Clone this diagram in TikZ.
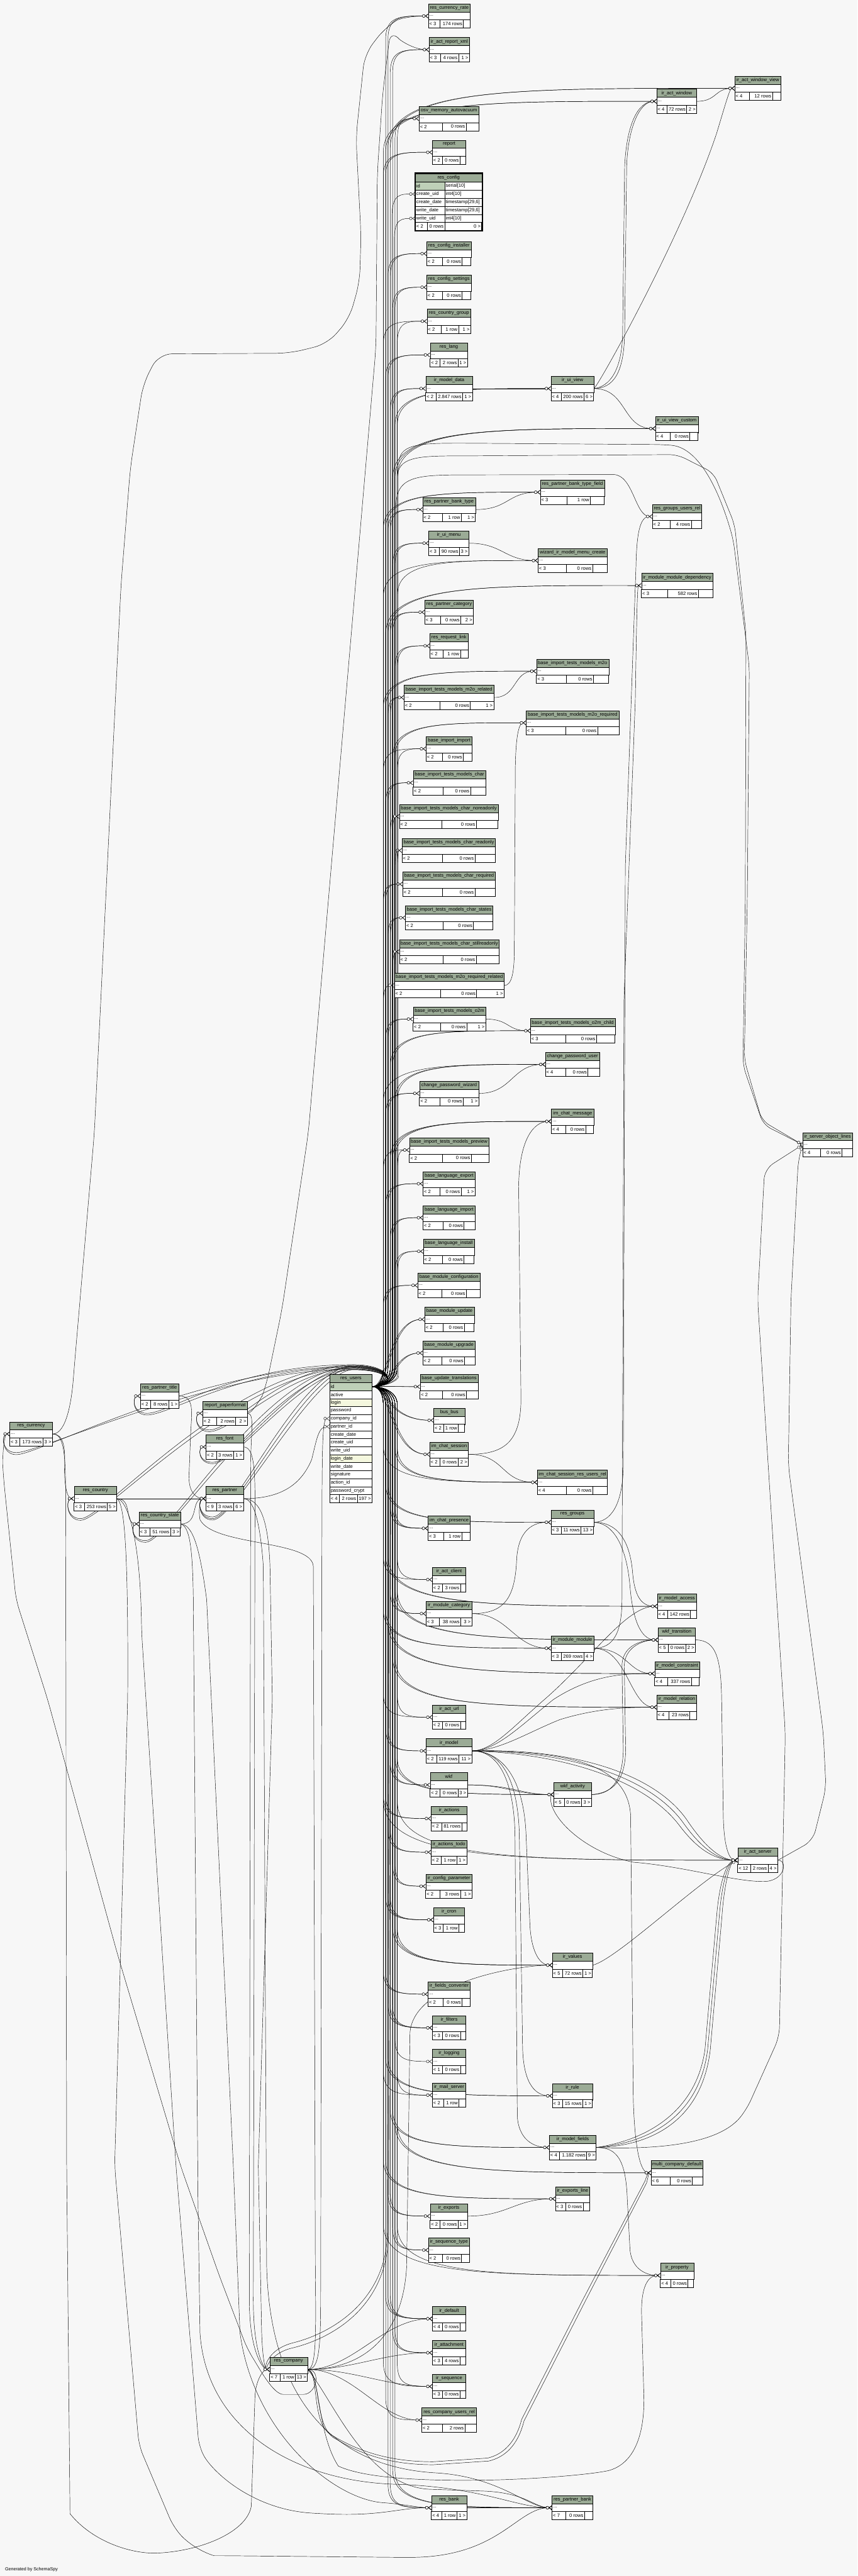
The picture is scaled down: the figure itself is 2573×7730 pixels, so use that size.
\documentclass[tikz,border=0pt]{standalone}
\usepackage{fontspec}
\newfontfamily\sfx{Liberation Sans}
\usetikzlibrary{arrows.meta,calc}
\pgfdeclarelayer{back}\pgfdeclarelayer{edges}
\pgfsetlayers{back,edges,main}
\definecolor{hdrc}{HTML}{9BAB96}
\definecolor{idc}{HTML}{BED0B8}
\definecolor{ylc}{HTML}{F4F7DE}
\definecolor{bgc}{HTML}{F7F7F7}
\tikzset{
 txt/.style={font=\sfx\fontsize{14.4}{16}\selectfont, inner sep=0pt},
 hdr/.style={draw=black, line width=0.9pt, fill=hdrc, anchor=north west, minimum height=24.4pt, inner sep=0pt, font=\sfx\fontsize{14.4}{16}\selectfont},
 drow/.style={draw=black, line width=0.9pt, fill=white, anchor=north west, minimum height=24.4pt, inner sep=0pt},
 frw/.style={draw=black, line width=0.9pt, anchor=north west, minimum height=24.2pt, inner sep=0pt},
 cell/.style={draw=black, line width=0.9pt},
 fk/.style={draw=black, line width=0.85pt, -{Circle[length=9pt,fill=white] Straight Barb[reversed,length=8pt,width=12pt]}}
}
\newcommand\tfoot[8]{%
 \draw[cell,fill=white] (#1,#2) rectangle ++(#3,24.4);
 \draw[cell] ({#1+#4*#3},#2) -- ++(0,24.4);
 \draw[cell] ({#1+#5*#3},#2) -- ++(0,24.4);
 \node[txt, anchor=west] at (#1+3,#2+12.2) {#6};
 \node[txt, anchor=east] at ({#1+#5*#3-3},#2+12.2) {#7};
 \node[txt, anchor=east] at ({#1+#3-3},#2+12.2) {#8};}
\newcommand\ctab[9]{%
 \node[hdr, minimum width=#4pt] (#1-h) at (#2,#3) {\detokenize{#1}};
 \node[drow, minimum width=#4pt] (#1) at (#2,#3+24.4) {};
 \node[txt, anchor=west] at (#2+3,#3+36.6) {...};
 \pgfmathsetmacro\tmpy{#3+36.6}%
 \expandafter\xdef\csname ty@#1\endcsname{\tmpy}%
 \expandafter\xdef\csname tx@#1\endcsname{#2}%
 \tfoot{#2}{#3+48.8}{#4}{#5}{#6}{#7}{#8}{#9}}
\newcommand\frow[6]{%
 \node[frw, minimum width=#5pt, fill=#6] (#1) at (#3,#4) {};
 \node[txt, anchor=west] at ([xshift=3pt]#1.west) {\detokenize{#2}};}
\newcount\ecnt
\newcommand\uone[1]{\global\advance\ecnt by 1 %
 \pgfmathsetmacro\cxa{1150+7*mod(\the\ecnt,7)}%
 \pgfmathsetmacro\txv{\csname tx@#1\endcsname}%
 \pgfmathsetmacro\tyv{\csname ty@#1\endcsname}%
 \pgfmathsetmacro\dyv{\tyv-4160.4}%
 \pgfmathsetmacro\kv{55+0.12*(\txv-\cxa)}%
 \pgfmathsetmacro\cxb{\cxa+0.35*(\txv-\cxa)}%
 \ifdim \dyv pt < -220pt
  \draw[fk] (res_users-id.east) to[out=0,in=-90] (\cxa,4105) -- (\cxa,\tyv+\kv) .. controls (\cxa,\tyv) and (\cxb,\tyv) .. (#1.west);
 \else\ifdim \dyv pt > 220pt
  \draw[fk] (res_users-id.east) to[out=0,in=90] (\cxa,4215) -- (\cxa,\tyv-\kv) .. controls (\cxa,\tyv) and (\cxb,\tyv) .. (#1.west);
 \else
  \draw[fk] (res_users-id.east) .. controls (\cxa,4160.4) and (\cxa,\tyv) .. (#1.west);
 \fi\fi}
\newcommand\utwo[1]{\uone{#1}\uone{#1}}
\newcommand\uthree[1]{\uone{#1}\uone{#1}\uone{#1}}
\newcommand\pcedge[4]{\draw[fk] (#1.east) .. controls +(#3,0) and +(-#4,0) .. (#2.west);}
\newcommand\hookedge[4]{\draw[fk] (res_users-id.east) .. controls (1192,4160) and (1180,#2) .. (1060,#2) .. controls (#3,#2) and ($(#1.west)+(90,#4)$) .. ($(#1.west)+(20,#4)$) .. controls ($(#1.west)+(-25,#4)$) and ($(#1.west)+(-25,0)$) .. (#1.west);}
\newcommand\cedge[2]{\draw[fk] (res_company.east) .. controls (1060,7110) and (#2,0 |- #1.west) .. (#1.west);}
\begin{document}
\begin{tikzpicture}[x=1pt,y=-1pt]
\useasboundingbox (0,0) rectangle (2573,7730);
\begin{pgfonlayer}{back}
\fill[bgc] (0,0) rectangle (2573,7730);
\end{pgfonlayer}
% ---------------- tables ----------------
\ctab{res_currency_rate}{1285}{11}{125}{0.28}{0.84}{< 3}{174 rows}{}
\ctab{ir_act_report_xml}{1287}{112}{121}{0.28}{0.73}{< 3}{4 rows}{1 >}
\ctab{ir_act_window_view}{2204}{228}{138}{0.32}{0.82}{< 4}{12 rows}{}
\ctab{ir_act_window}{1970}{267}{120}{0.26}{0.75}{< 4}{72 rows}{2 >}
\ctab{osv_memory_autovacuum}{1257}{319}{179}{0.39}{0.79}{< 2}{0 rows}{}
\ctab{report}{1297}{420}{100}{0.31}{0.83}{< 2}{0 rows}{}
\ctab{res_config_installer}{1280}{724}{133}{0.36}{0.80}{< 2}{0 rows}{}
\ctab{res_config_settings}{1280}{825}{133}{0.36}{0.80}{< 2}{0 rows}{}
\ctab{res_country_group}{1281}{927}{131}{0.33}{0.72}{< 2}{1 row}{1 >}
\ctab{res_lang}{1290}{1028}{112}{0.27}{0.75}{< 2}{2 rows}{1 >}
\ctab{ir_model_data}{1277}{1129}{140}{0.22}{0.79}{< 2}{2.847 rows}{1 >}
\ctab{ir_ui_view}{1653}{1129}{128}{0.24}{0.77}{< 4}{200 rows}{6 >}
\ctab{ir_ui_view_custom}{1966}{1249}{128}{0.34}{0.81}{< 4}{0 rows}{}
\ctab{res_partner_bank_type_field}{1621}{1440}{192}{0.42}{0.78}{< 3}{1 row}{}
\ctab{res_partner_bank_type}{1268}{1492}{158}{0.37}{0.73}{< 2}{1 row}{1 >}
\ctab{res_groups_users_rel}{1957}{1513}{148}{0.36}{0.79}{< 2}{4 rows}{}
\ctab{ir_ui_menu}{1286}{1593}{120}{0.26}{0.77}{< 3}{90 rows}{3 >}
\ctab{wizard_ir_model_menu_create}{1614}{1645}{207}{0.41}{0.79}{< 3}{0 rows}{}
\ctab{ir_module_module_dependency}{1924}{1720}{214}{0.37}{0.80}{< 3}{582 rows}{}
\ctab{res_partner_category}{1274}{1800}{146}{0.32}{0.74}{< 3}{0 rows}{2 >}
\ctab{res_request_link}{1289}{1901}{115}{0.35}{0.80}{< 2}{1 row}{}
\ctab{base_import_tests_models_m2o}{1609}{1977}{217}{0.41}{0.79}{< 3}{0 rows}{}
\ctab{base_import_tests_models_m2o_related}{1212}{2056}{269}{0.40}{0.74}{< 2}{0 rows}{1 >}
\ctab{base_import_tests_models_m2o_required}{1578}{2132}{279}{0.43}{0.77}{< 3}{0 rows}{}
\ctab{base_import_import}{1278}{2210}{138}{0.36}{0.81}{< 2}{0 rows}{}
\ctab{base_import_tests_models_char}{1239}{2312}{218}{0.41}{0.79}{< 2}{0 rows}{}
\ctab{base_import_tests_models_char_noreadonly}{1198}{2413}{296}{0.43}{0.78}{< 2}{0 rows}{}
\ctab{base_import_tests_models_char_readonly}{1206}{2515}{280}{0.43}{0.78}{< 2}{0 rows}{}
\ctab{base_import_tests_models_char_required}{1208}{2616}{278}{0.43}{0.78}{< 2}{0 rows}{}
\ctab{base_import_tests_models_char_states}{1216}{2717}{262}{0.43}{0.78}{< 2}{0 rows}{}
\ctab{base_import_tests_models_char_stillreadonly}{1198}{2819}{299}{0.44}{0.77}{< 2}{0 rows}{}
\ctab{base_import_tests_models_m2o_required_related}{1183}{2920}{329}{0.42}{0.75}{< 2}{0 rows}{1 >}
\ctab{base_import_tests_models_o2m}{1239}{3021}{218}{0.38}{0.74}{< 2}{0 rows}{1 >}
\ctab{base_import_tests_models_o2m_child}{1591}{3056}{254}{0.42}{0.78}{< 3}{0 rows}{}
\ctab{change_password_user}{1636}{3157}{162}{0.38}{0.79}{< 4}{0 rows}{}
\ctab{change_password_wizard}{1258}{3244}{178}{0.35}{0.74}{< 2}{0 rows}{1 >}
\ctab{im_chat_message}{1654}{3328}{127}{0.34}{0.81}{< 4}{0 rows}{}
\ctab{base_import_tests_models_preview}{1228}{3414}{238}{0.42}{0.78}{< 2}{0 rows}{}
\ctab{base_language_export}{1269}{3515}{156}{0.33}{0.73}{< 2}{0 rows}{1 >}
\ctab{base_language_import}{1269}{3617}{156}{0.38}{0.79}{< 2}{0 rows}{}
\ctab{base_language_install}{1270}{3718}{152}{0.37}{0.80}{< 2}{0 rows}{}
\ctab{base_module_configuration}{1253}{3820}{187}{0.39}{0.78}{< 2}{0 rows}{}
\ctab{ir_server_object_lines}{2408}{3398}{149}{0.36}{0.79}{< 4}{0 rows}{}
\ctab{base_module_update}{1274}{3922}{148}{0.37}{0.80}{< 2}{0 rows}{}
\ctab{base_module_upgrade}{1268}{4023}{157}{0.37}{0.80}{< 2}{0 rows}{}
\ctab{base_update_translations}{1260}{4124}{174}{0.39}{0.80}{< 2}{0 rows}{}
\ctab{bus_bus}{1301}{4225}{93}{0.32}{0.79}{< 2}{1 row}{}
\ctab{im_chat_session}{1289}{4327}{116}{0.27}{0.73}{< 2}{0 rows}{2 >}
\ctab{im_chat_session_res_users_rel}{1612}{4411}{210}{0.41}{0.79}{< 4}{0 rows}{}
\ctab{res_groups}{1653}{4531}{128}{0.24}{0.70}{< 3}{11 rows}{13 >}
\ctab{im_chat_presence}{1284}{4549}{126}{0.37}{0.80}{< 3}{1 row}{}
\ctab{ir_act_client}{1297}{4703}{100}{0.31}{0.84}{< 2}{3 rows}{}
\ctab{ir_model_access}{1972}{4783}{117}{0.27}{0.85}{< 4}{142 rows}{}
\ctab{ir_module_category}{1278}{4805}{137}{0.29}{0.76}{< 3}{38 rows}{3 >}
\ctab{wkf_transition}{1974}{4884}{112}{0.27}{0.74}{< 5}{0 rows}{2 >}
\ctab{ir_module_module}{1653}{4909}{128}{0.24}{0.77}{< 3}{269 rows}{4 >}
\ctab{ir_model_constraint}{1964}{4985}{134}{0.29}{0.82}{< 4}{337 rows}{}
\ctab{ir_model_relation}{1970}{5086}{120}{0.30}{0.83}{< 4}{23 rows}{}
\ctab{ir_act_url}{1297}{5116}{100}{0.31}{0.84}{< 2}{0 rows}{}
\ctab{ir_model}{1278}{5217}{137}{0.23}{0.72}{< 2}{119 rows}{11 >}
\ctab{wkf}{1290}{5319}{112}{0.27}{0.75}{< 2}{0 rows}{3 >}
\ctab{wkf_activity}{1661}{5348}{113}{0.28}{0.74}{< 5}{0 rows}{3 >}
\ctab{ir_actions}{1293}{5420}{108}{0.29}{0.85}{< 2}{81 rows}{}
\ctab{ir_actions_todo}{1293}{5521}{107}{0.29}{0.72}{< 2}{1 row}{1 >}
\ctab{ir_act_server}{2213}{5545}{120}{0.32}{0.76}{< 12}{2 rows}{4 >}
\ctab{ir_config_parameter}{1277}{5623}{139}{0.31}{0.75}{< 2}{3 rows}{1 >}
\ctab{ir_cron}{1300}{5724}{93}{0.32}{0.82}{< 3}{1 row}{}
\ctab{ir_values}{1657}{5860}{120}{0.26}{0.76}{< 5}{72 rows}{1 >}
\ctab{ir_fields_converter}{1284}{5947}{126}{0.35}{0.81}{< 2}{0 rows}{}
\ctab{ir_filters}{1297}{6048}{100}{0.31}{0.84}{< 3}{0 rows}{}
\ctab{ir_logging}{1297}{6149}{100}{0.31}{0.84}{< 1}{0 rows}{}
\ctab{ir_mail_server}{1297}{6250}{100}{0.33}{0.80}{< 2}{1 row}{}
\ctab{ir_rule}{1657}{6252}{120}{0.26}{0.76}{< 3}{15 rows}{1 >}
\ctab{ir_model_fields}{1648}{6407}{140}{0.21}{0.80}{< 4}{1.182 rows}{9 >}
\ctab{multi_company_default}{1953}{6483}{155}{0.37}{0.80}{< 6}{0 rows}{}
\ctab{ir_exports_line}{1666}{6561}{103}{0.31}{0.81}{< 3}{0 rows}{}
\ctab{ir_exports}{1290}{6613}{112}{0.27}{0.75}{< 2}{0 rows}{1 >}
\ctab{ir_sequence_type}{1285}{6715}{123}{0.34}{0.81}{< 2}{0 rows}{}
\ctab{ir_property}{1981}{6791}{100}{0.31}{0.83}{< 4}{0 rows}{}
\ctab{ir_default}{1297}{6921}{100}{0.31}{0.83}{< 4}{0 rows}{}
\ctab{ir_attachment}{1297}{7023}{100}{0.31}{0.83}{< 3}{4 rows}{}
\ctab{ir_sequence}{1297}{7124}{100}{0.31}{0.83}{< 3}{0 rows}{}
\ctab{res_company_users_rel}{1265}{7225}{164}{0.38}{0.79}{< 2}{2 rows}{}
\ctab{res_bank}{1294}{7488}{106}{0.30}{0.72}{< 4}{1 row}{1 >}
\ctab{res_partner_bank}{1656}{7488}{122}{0.34}{0.80}{< 7}{0 rows}{}
\ctab{res_currency}{29}{4266}{128}{0.24}{0.78}{< 3}{173 rows}{3 >}
\ctab{res_partner_title}{421}{4152}{115}{0.27}{0.74}{< 2}{8 rows}{1 >}
\ctab{report_paperformat}{608}{4204}{134}{0.31}{0.74}{< 2}{2 rows}{2 >}
\ctab{res_font}{618}{4305}{112}{0.28}{0.74}{< 2}{3 rows}{1 >}
\ctab{res_country}{222}{4460}{128}{0.24}{0.78}{< 3}{253 rows}{5 >}
\ctab{res_partner}{618}{4460}{112}{0.28}{0.74}{< 9}{3 rows}{6 >}
\ctab{res_country_state}{417}{4536}{124}{0.27}{0.76}{< 3}{51 rows}{3 >}
\ctab{res_company}{809}{7073}{113}{0.28}{0.68}{< 7}{1 row}{13 >}
% res_config (full)
\node[hdr, minimum width=199pt] (res_config-h) at (1246,521) {res\_config};
\frow{rc-id}{id}{1246}{545.4}{88}{idc}
\frow{rc-id2}{serial[10]}{1334}{545.4}{111}{white}
\frow{rc-create_uid}{create_uid}{1246}{569.8}{88}{white}
\frow{rc-create_uid2}{int4[10]}{1334}{569.8}{111}{white}
\frow{rc-create_date}{create_date}{1246}{594.2}{88}{white}
\frow{rc-create_date2}{timestamp[29,6]}{1334}{594.2}{111}{white}
\frow{rc-write_date}{write_date}{1246}{618.6}{88}{white}
\frow{rc-write_date2}{timestamp[29,6]}{1334}{618.6}{111}{white}
\frow{rc-write_uid}{write_uid}{1246}{643.0}{88}{white}
\frow{rc-write_uid2}{int4[10]}{1334}{643.0}{111}{white}
\tfoot{1246}{667.4}{199}{0.176}{0.442}{< 2}{0 rows}{0 >}
\draw[line width=3pt] (1244.5,519.5) rectangle (1447.5,693.3);
% res_users (full)
\node[hdr, minimum width=127pt] (res_users-h) at (989,4124) {res\_users};
\frow{res_users-id}{id}{989}{4148.4}{127}{idc}
\frow{res_users-active}{active}{989}{4172.4}{127}{white}
\frow{res_users-login}{login}{989}{4196.4}{127}{ylc}
\frow{res_users-password}{password}{989}{4220.4}{127}{white}
\frow{res_users-company_id}{company_id}{989}{4244.4}{127}{white}
\frow{res_users-partner_id}{partner_id}{989}{4268.4}{127}{white}
\frow{res_users-create_date}{create_date}{989}{4292.4}{127}{white}
\frow{res_users-create_uid}{create_uid}{989}{4316.4}{127}{white}
\frow{res_users-write_uid}{write_uid}{989}{4340.4}{127}{white}
\frow{res_users-login_date}{login_date}{989}{4364.4}{127}{ylc}
\frow{res_users-write_date}{write_date}{989}{4388.4}{127}{white}
\frow{res_users-signature}{signature}{989}{4412.4}{127}{white}
\frow{res_users-action_id}{action_id}{989}{4436.4}{127}{white}
\frow{res_users-password_crypt}{password_crypt}{989}{4460.4}{127}{white}
\tfoot{989}{4484.4}{127}{0.23}{0.65}{< 4}{2 rows}{197 >}
\node[txt, anchor=west, font=\sfx\fontsize{13.5}{15}\selectfont] (credit) at (15,7711) {Generated by SchemaSpy};
% ---------------- edges ----------------
\begin{pgfonlayer}{edges}
\utwo{res_currency_rate}\utwo{ir_act_report_xml}\utwo{osv_memory_autovacuum}\utwo{report}
\draw[fk] (res_users-id.east) to[out=0,in=-90] (1176,4105) -- (1176,650) .. controls (1176,582) and (1200,582) .. (rc-create_uid.west);
\draw[fk] (res_users-id.east) to[out=0,in=-90] (1183,4105) -- (1183,720) .. controls (1183,655) and (1205,655) .. (rc-write_uid.west);
\utwo{res_config_installer}\utwo{res_config_settings}\utwo{res_country_group}\utwo{res_lang}
\utwo{ir_model_data}\utwo{ir_ui_view}\utwo{ir_act_window}\utwo{ir_act_window_view}\uthree{ir_ui_view_custom}
\utwo{res_partner_bank_type_field}\utwo{res_partner_bank_type}\utwo{ir_ui_menu}\utwo{wizard_ir_model_menu_create}
\utwo{ir_module_module_dependency}\utwo{res_partner_category}\utwo{res_request_link}
\utwo{base_import_tests_models_m2o}\utwo{base_import_tests_models_m2o_related}\utwo{base_import_tests_models_m2o_required}
\utwo{base_import_import}\utwo{base_import_tests_models_char}\utwo{base_import_tests_models_char_noreadonly}
\utwo{base_import_tests_models_char_readonly}\utwo{base_import_tests_models_char_required}\utwo{base_import_tests_models_char_states}
\utwo{base_import_tests_models_char_stillreadonly}\utwo{base_import_tests_models_m2o_required_related}
\utwo{base_import_tests_models_o2m}\utwo{base_import_tests_models_o2m_child}\uthree{change_password_user}
\utwo{change_password_wizard}\uthree{im_chat_message}\utwo{base_import_tests_models_preview}
\utwo{base_language_export}\utwo{base_language_import}\utwo{base_language_install}\utwo{base_module_configuration}
\utwo{base_module_update}\utwo{base_module_upgrade}\utwo{base_update_translations}
\utwo{bus_bus}\utwo{im_chat_session}\uthree{im_chat_session_res_users_rel}\utwo{res_groups}\uthree{im_chat_presence}
\utwo{ir_act_client}\utwo{ir_model_access}\utwo{ir_module_category}\utwo{wkf_transition}\utwo{ir_module_module}
\utwo{ir_model_constraint}\utwo{ir_model_relation}\utwo{ir_act_url}\utwo{ir_model}\utwo{wkf}\utwo{wkf_activity}
\utwo{ir_actions}\utwo{ir_actions_todo}\utwo{ir_config_parameter}\utwo{ir_act_server}\uthree{ir_cron}\uthree{ir_values}
\utwo{ir_fields_converter}\uthree{ir_filters}\uone{ir_logging}\utwo{ir_mail_server}\utwo{ir_rule}\utwo{ir_model_fields}
\utwo{multi_company_default}\utwo{ir_exports_line}\utwo{ir_exports}\utwo{ir_sequence_type}\utwo{ir_property}
\uthree{ir_default}\utwo{ir_attachment}\utwo{ir_sequence}\uone{res_company_users_rel}\utwo{res_bank}\utwo{res_partner_bank}
% res_users -> tables via the top
\draw[fk] (res_users-id.east) to[out=0,in=-90] (1188,4105) -- (1188,1520) .. controls (1188,1428) and (1250,1425) .. (1400,1425) -- (1840,1424) .. controls (1900,1424) and (1905,1549) .. (res_groups_users_rel.west);
\draw[fk, rounded corners=25pt] (res_users-id.east) to[out=0,in=-90] (1192,4105) -- (1192,1460) .. controls (1192,1372) and (1250,1368) .. (1400,1368) -- (2032,1364) -- (2141,1419) -- (2204,1574) -- (2238,1900) -- (2236,2700) -- (2229,3197) -- (2290,3375) -- (ir_server_object_lines.west);
\draw[fk, rounded corners=25pt] (res_users-id.east) to[out=0,in=-90] (1196,4105) -- (1196,1420) .. controls (1196,1334) and (1250,1330) .. (1400,1330) -- (1990,1334) .. controls (2100,1344) and (2160,1480) .. (2200,1620) -- (2248,2000) -- (2242,2700) -- (2233,3180) -- (2286,3363) -- (ir_server_object_lines.west);
% res_users -> left tables
\hookedge{res_currency}{4100}{600}{62}
\hookedge{res_currency}{4108}{650}{56}
\hookedge{res_partner_title}{4095}{700}{52}
\hookedge{res_partner_title}{4103}{720}{57}
\hookedge{report_paperformat}{4098}{850}{50}
\hookedge{report_paperformat}{4106}{870}{55}
\hookedge{res_font}{4102}{900}{46}
\hookedge{res_font}{4110}{910}{50}
\hookedge{res_country}{4097}{700}{60}
\hookedge{res_country}{4105}{720}{65}
\hookedge{res_partner}{4099}{900}{55}
\hookedge{res_partner}{4104}{920}{60}
\hookedge{res_partner}{4110}{940}{64}
\hookedge{res_country_state}{4101}{800}{50}
\hookedge{res_country_state}{4109}{820}{55}
\draw[fk] (res_users-id.east) to[out=0,in=90] (1168,4215) -- (1168,4600) -- (1162,6700) .. controls (1160,6900) and (1000,7000) .. (880,7030) .. controls (800,7050) and (790,7110) .. (res_company.west);
\draw[fk] (res_users-id.east) to[out=0,in=90] (1172,4215) -- (1172,4600) -- (1166,6700) .. controls (1164,6920) and (1000,7015) .. (880,7045) .. controls (810,7060) and (795,7110) .. (res_company.west);
% upper part
\pcedge{ir_model_data}{ir_ui_view}{80}{80}
\draw[fk] (ir_ui_view.east) .. controls (1840,1165) and (1872,1120) .. (1874,1000) -- (1880,500) .. controls (1884,380) and (1920,303.6) .. (ir_act_window.west);
\draw[fk] (ir_ui_view.east) .. controls (1830,1160) and (1866,1110) .. (1868,1000) -- (1874,500) .. controls (1880,370) and (1915,303.6) .. (ir_act_window.west);
\draw[fk] (ir_ui_view.east) .. controls (1800,1150) and (2050,700) .. (2150,400) .. controls (2180,300) and (2190,264.6) .. (ir_act_window_view.west);
\pcedge{ir_act_window}{ir_act_window_view}{60}{60}
\pcedge{ir_ui_view}{ir_ui_view_custom}{100}{100}
\pcedge{res_partner_bank_type}{res_partner_bank_type_field}{100}{100}
\pcedge{ir_ui_menu}{wizard_ir_model_menu_create}{100}{100}
\draw[fk] (ir_module_module.east) .. controls (1840,4946) and (1866,4900) .. (1866,4800) -- (1872,3000) -- (1906,2100) .. controls (1910,1850) and (1912,1757) .. (ir_module_module_dependency.west);
\draw[fk] (res_groups.east) .. controls (1830,4567) and (1868,4520) .. (1870,4400) -- (1876,2600) -- (1908,1700) .. controls (1910,1600) and (1920,1549) .. (res_groups_users_rel.west);
\pcedge{base_import_tests_models_m2o_related}{base_import_tests_models_m2o}{70}{70}
\draw[fk] (base_import_tests_models_m2o_required_related.east) .. controls (1535,2957) and (1542,2920) .. (1543,2860) -- (1546,2300) .. controls (1548,2200) and (1558,2169) .. (base_import_tests_models_m2o_required.west);
\pcedge{base_import_tests_models_o2m}{base_import_tests_models_o2m_child}{70}{70}
\pcedge{change_password_wizard}{change_password_user}{100}{100}
\draw[fk] (im_chat_session.east) .. controls (1510,4364) and (1562,4330) .. (1563,4200) -- (1556,3560) .. controls (1558,3420) and (1600,3365) .. (im_chat_message.west);
\pcedge{im_chat_session}{im_chat_session_res_users_rel}{110}{110}
% middle part
\draw[fk] (ir_module_category.east) .. controls (1510,4842) and (1545,4800) .. (1550,4680) .. controls (1555,4590) and (1600,4567) .. (res_groups.west);
\pcedge{ir_module_category}{ir_module_module}{110}{110}
\draw[fk] (res_groups.east) .. controls (1850,4567) and (1890,4620) .. (1898,4720) .. controls (1905,4800) and (1930,4820) .. (ir_model_access.west);
\draw[fk] (res_groups.east) .. controls (1840,4570) and (1880,4640) .. (1890,4760) .. controls (1900,4880) and (1930,4921) .. (wkf_transition.west);
\pcedge{ir_module_module}{ir_model_constraint}{100}{80}
\pcedge{ir_module_module}{ir_model_relation}{100}{80}
\draw[fk] (ir_model.east) .. controls (1480,5253) and (1540,5180) .. (1640,5094) .. controls (1780,4970) and (1880,4820) .. (ir_model_access.west);
\draw[fk] (ir_model.east) .. controls (1490,5253) and (1560,5180) .. (1660,5100) .. controls (1780,5022) and (1880,5022) .. (ir_model_constraint.west);
\draw[fk] (ir_model.east) .. controls (1500,5253) and (1580,5200) .. (1680,5160) .. controls (1800,5123) and (1900,5123) .. (ir_model_relation.west);
\draw[fk] (ir_model.east) .. controls (1500,5253) and (1552,5330) .. (1558,5500) -- (1568,6150) .. controls (1572,6260) and (1610,6289) .. (ir_rule.west);
\draw[fk] (ir_model.east) .. controls (1490,5253) and (1540,5330) .. (1545,5500) -- (1552,6350) .. controls (1556,6420) and (1600,6443) .. (ir_model_fields.west);
\draw[fk] (ir_model.east) .. controls (1510,5255) and (1570,5340) .. (1578,5500) -- (1590,5780) .. controls (1595,5860) and (1620,5897) .. (ir_values.west);
\draw[fk] (ir_model.east) .. controls (1700,5253) and (1950,5330) .. (2050,5470) .. controls (2100,5540) and (2150,5582) .. (ir_act_server.west);
\draw[fk] (ir_model.east) .. controls (1700,5262) and (1940,5345) .. (2040,5480) .. controls (2090,5545) and (2140,5582) .. (ir_act_server.west);
\draw[fk] (ir_model.east) .. controls (1710,5245) and (1960,5318) .. (2060,5460) .. controls (2110,5535) and (2160,5582) .. (ir_act_server.west);
\draw[fk] (ir_model.east) .. controls (1700,5255) and (1885,5290) .. (1892,5450) -- (1900,6300) .. controls (1904,6440) and (1920,6520) .. (multi_company_default.west);
\pcedge{wkf}{wkf_activity}{120}{120}
\pcedge{wkf}{wkf_activity}{140}{100}
\draw[fk] (wkf_activity.east) .. controls (1830,5385) and (1868,5350) .. (1870,5250) -- (1866,5000) .. controls (1866,4940) and (1920,4921) .. (wkf_transition.west);
\draw[fk] (wkf_activity.east) .. controls (1838,5380) and (1876,5345) .. (1877,5250) -- (1873,5000) .. controls (1873,4945) and (1925,4921) .. (wkf_transition.west);
\draw[fk] (ir_act_server.east) .. controls (2365,5582) and (2355,5646) .. (2290,5646) .. controls (2200,5646) and (2050,5600) .. (1900,5588) .. controls (1760,5560) and (1655,5460) .. (1652,5400) .. controls (1652,5390) and (1655,5385) .. (wkf_activity.west);
\draw[fk, rounded corners=30pt] (ir_act_server.east) -- (2439,5523) -- (2478,5366) -- (2470,5200) -- (2365,4397) -- (2373,3900) -- (2395,3480) -- (ir_server_object_lines.west);
\draw[fk] (ir_values.east) .. controls (1850,5880) and (2100,5640) .. (ir_act_server.west);
\draw[fk] (ir_model_fields.east) .. controls (1950,6420) and (2090,6330) .. (2115,6150) -- (2150,5750) .. controls (2158,5650) and (2180,5582) .. (ir_act_server.west);
\draw[fk] (ir_model_fields.east) .. controls (1960,6430) and (2100,6340) .. (2123,6150) -- (2158,5750) .. controls (2165,5655) and (2185,5582) .. (ir_act_server.west);
\draw[fk] (ir_model_fields.east) .. controls (1970,6440) and (2108,6350) .. (2131,6150) -- (2166,5750) .. controls (2172,5660) and (2190,5582) .. (ir_act_server.west);
\draw[fk, rounded corners=30pt] (ir_model_fields.east) .. controls (1950,6450) and (2150,6440) .. (2240,6330) -- (2338,6112) -- (2356,5200) -- (2273,3900) -- (2294,3508) -- (ir_server_object_lines.west);
\draw[fk] (ir_model_fields.east) .. controls (1850,6443) and (1878,6480) .. (1882,6600) -- (1890,6750) .. controls (1895,6810) and (1940,6828) .. (ir_property.west);
\draw[fk] (wkf_transition.east) .. controls (2150,4921) and (2163,4980) .. (2165,5100) -- (2170,5450) .. controls (2172,5550) and (2190,5582) .. (ir_act_server.west);
\pcedge{ir_exports}{ir_exports_line}{120}{120}
\pcedge{res_bank}{res_partner_bank}{100}{100}
% res_company -> children
\cedge{ir_default}{1150}
\cedge{ir_attachment}{1150}
\cedge{ir_sequence}{1160}
\cedge{res_company_users_rel}{1140}
\draw[fk] (res_company.east) .. controls (960,7115) and (950,7300) .. (1015,7400) .. controls (1100,7440) and (1300,7445) .. (1463,7442) .. controls (1600,7440) and (1780,7425) .. (1828,7413) .. controls (1890,7395) and (1932,7330) .. (1932,7200) -- (1925,6950) .. controls (1922,6860) and (1945,6828) .. (ir_property.west);
\draw[fk] (res_company.east) .. controls (960,7120) and (930,7280) .. (1000,7310) .. controls (1100,7370) and (1200,7387) .. (1300,7387) -- (1463,7376) .. controls (1530,7360) and (1555,7300) .. (1565,7260) -- (1749,6900) -- (1935,6545) .. controls (1940,6530) and (1945,6520) .. (multi_company_default.west);
\draw[fk] (res_company.east) .. controls (965,7125) and (940,7290) .. (1010,7320) .. controls (1105,7378) and (1200,7396) .. (1300,7396) -- (1466,7385) .. controls (1538,7368) and (1562,7305) .. (1572,7265) -- (1756,6905) -- (1940,6550) .. controls (1944,6532) and (1948,6520) .. (multi_company_default.west);
\draw[fk] (res_company.east) .. controls (1100,7110) and (1210,7000) .. (1220,6800) -- (1230,6100) .. controls (1240,5950) and (1550,5897) .. (ir_values.west);
\draw[fk] (res_company.east) .. controls (1000,7200) and (1100,7470) .. (1300,7470) -- (1450,7475) .. controls (1580,7480) and (1600,7524) .. (res_partner_bank.west);
\draw[fk] (res_company.east) .. controls (955,7110) and (962,7060) .. (962,6900) -- (966,4500) .. controls (967,4330) and (968,4256.4) .. (res_users-company_id.west);
\draw[fk] (res_company.east) .. controls (950,7110) and (948,7000) .. (946,6800) -- (940,4700) .. controls (935,4620) and (640,4640) .. (600,4560) .. controls (595,4530) and (600,4496.6) .. (res_partner.west);
\draw[fk, rounded corners=30pt] (res_company.east) .. controls (965,7110) and (950,7185) .. (880,7185) .. controls (820,7185) and (780,7110) .. (742,7049) -- (658,6829) -- (542,6500) -- (351,5859) -- (143,5100) -- (48,4800) -- (11,4440) .. controls (6,4360) and (14,4302.6) .. (res_currency.west);
% left cluster
\draw[fk] (res_partner.east) .. controls (850,4497) and (905,4450) .. (935,4380) .. controls (950,4320) and (955,4280.4) .. (res_users-partner_id.west);
\draw[fk] (res_partner.east) .. controls (780,4497) and (805,4560) .. (810,4700) -- (817,5100) -- (775,6500) -- (785,7000) .. controls (788,7080) and (795,7110) .. (res_company.west);
\draw[fk] (report_paperformat.east) .. controls (765,4241) and (752,4300) .. (752,4400) -- (748,6900) .. controls (748,7060) and (790,7110) .. (res_company.west);
\draw[fk] (res_font.east) .. controls (760,4342) and (765,4400) .. (765,4500) -- (760,6900) .. controls (760,7070) and (795,7110) .. (res_company.west);
\draw[fk, rounded corners=40pt] (report_paperformat.east) .. controls (760,4240) and (790,4180) .. (800,4152) -- (846,3929) -- (925,3400) -- (1128,1041) -- (1132,520) -- (1148,282) -- (1172,87) .. controls (1200,120) and (1240,148.6) .. (ir_act_report_xml.west);
\draw[fk, rounded corners=40pt] (res_currency.east) .. controls (200,4303) and (215,4200) .. (223,4100) -- (283,3400) -- (363,1756) -- (391,1405) -- (429,1153) -- (476,1062) -- (869,1060) -- (982,1032) -- (1048,956) -- (1079,846) -- (1083,705) -- (1068,412) -- (1094,163) -- (1156,82) .. controls (1200,55) and (1240,47.6) .. (res_currency_rate.west);
\draw[fk] (res_currency.east) .. controls (190,4303) and (196,4340) .. (194,4400) .. controls (192,4470) and (205,4496.6) .. (res_country.west);
\draw[fk] (res_currency.east) .. controls (192,4303) and (197,4360) .. (197,4500) -- (200,6500) -- (210,7543) .. controls (280,7630) and (400,7665) .. (474,7661) .. controls (600,7655) and (740,7600) .. (754,7520) -- (765,7190) .. controls (768,7140) and (790,7110) .. (res_company.west);
\draw[fk] (res_country.east) .. controls (400,4497) and (370,4572.6) .. (res_country_state.west);
\draw[fk] (res_country.east) -- (res_partner.west);
\draw[fk] (res_country_state.east) .. controls (600,4573) and (570,4496.6) .. (res_partner.west);
\draw[fk] (res_partner_title.east) .. controls (585,4189) and (575,4240) .. (572,4300) -- (567,4430) .. controls (566,4480) and (590,4496.6) .. (res_partner.west);
\draw[fk, rounded corners=30pt] (res_country.east) .. controls (380,4500) and (420,4600) .. (425,4900) -- (528,6500) -- (597,7343) .. controls (640,7420) and (760,7530) .. (964,7543) .. controls (1150,7550) and (1200,7524.6) .. (res_bank.west);
\draw[fk, rounded corners=30pt] (res_country.east) .. controls (370,4510) and (385,4600) .. (383,5100) -- (344,6500) -- (417,7339) -- (520,7582) .. controls (580,7650) and (640,7669) .. (673,7669) -- (1200,7674) .. controls (1500,7674) and (1550,7524.6) .. (res_partner_bank.west);
\draw[fk] (res_country_state.east) .. controls (570,4580) and (578,4650) .. (580,4800) -- (594,6600) -- (600,7000) .. controls (620,7300) and (900,7450) .. (1200,7455) .. controls (1450,7465) and (1550,7524.6) .. (res_partner_bank.west);
\draw[fk] (res_country_state.east) .. controls (580,4575) and (600,4650) .. (620,4800) -- (700,6500) -- (720,7000) .. controls (760,7300) and (1000,7500) .. (1150,7510) .. controls (1220,7515) and (1250,7524.6) .. (res_bank.west);
\draw[fk] (res_partner.east) .. controls (760,4497) and (780,4560) .. (790,4700) -- (800,6800) .. controls (810,7200) and (1000,7400) .. (1300,7420) .. controls (1500,7430) and (1580,7524.6) .. (res_partner_bank.west);
\end{pgfonlayer}
\end{tikzpicture}
\end{document}
